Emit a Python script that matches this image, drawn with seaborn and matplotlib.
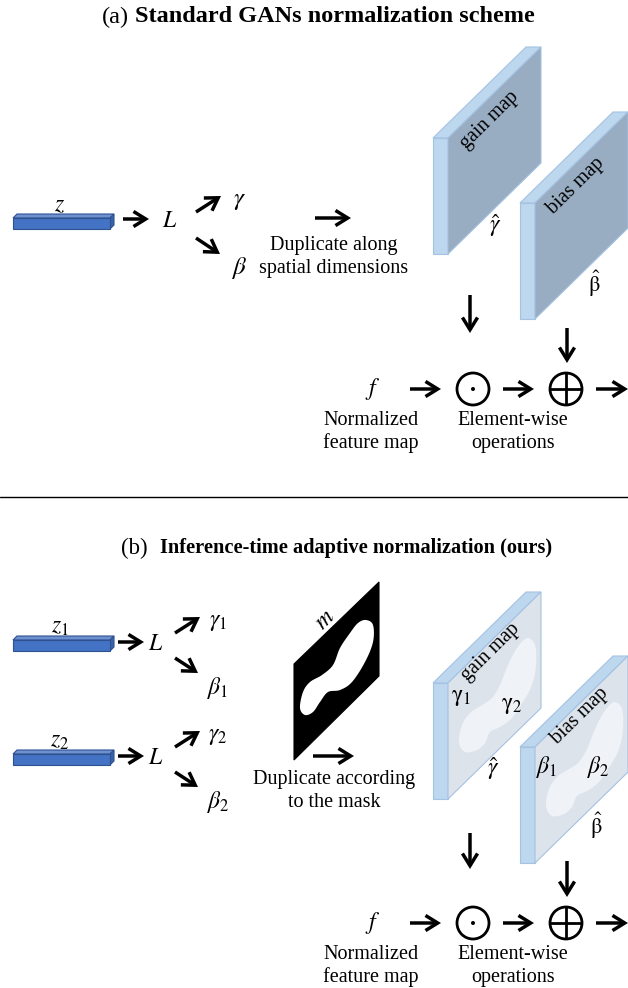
import numpy as np
import matplotlib
matplotlib.use("Agg")
import matplotlib.pyplot as plt
import seaborn as sns
from matplotlib.patches import Polygon, Circle, FancyArrowPatch

sns.set_theme(style="white")
plt.rcParams['font.family'] = ['Liberation Serif', 'DejaVu Serif']
plt.rcParams['mathtext.fontset'] = 'stix'
plt.rcParams['text.color'] = 'black'

# --- labels ---
panel_tags = ["(a)", "(b)"]
panel_titles = ["Standard GANs normalization scheme",
                "Inference-time adaptive normalization (ours)"]
latent_a = [r"$z$"]
latent_b = [r"$z_1$", r"$z_2$"]
params_a = [r"$\gamma$", r"$\beta$"]
params_b = [[r"$\gamma_1$", r"$\beta_1$"], [r"$\gamma_2$", r"$\beta_2$"]]
gain_parts = [r"$\mathrm{\gamma_1}$", r"$\mathrm{\gamma_2}$"]
dup_text = ["Duplicate along\nspatial dimensions", "Duplicate according\nto the mask"]
map_names = ["gain map", "bias map"]
map_hats = [r"$\hat{\gamma}$", r"$\hat{\mathrm{\beta}}$"]
feat_text = "Normalized\nfeature map"
op_text = "Element-wise\noperations"

# mask blob outline (rough trace)
mask_blob = [(366, 620), (373, 625), (373, 642), (365, 662), (352, 682), (340, 690),
             (328, 692), (320, 702), (313, 712), (305, 715), (300, 708), (303, 692),
             (310, 682), (322, 675), (333, 665), (340, 648), (350, 633), (358, 623)]
# lighter region on the gain map face (bias map uses the same one, shifted)
map_blob = [(527, 638), (535, 645), (536, 665), (532, 685), (523, 702), (512, 718),
            (500, 727), (490, 732), (485, 743), (477, 750), (465, 752), (459, 742),
            (462, 725), (470, 713), (482, 705), (492, 698), (500, 685), (508, 665),
            (517, 648)]

FS = 14.5
MS = 17
BLUE, BLUE_TOP, BLUE_SIDE, BLUE_EDGE = '#4472C4', '#6E8FD0', '#3A62AA', '#2F528F'
STRIP, STRIP_EDGE = '#BDD7EE', '#A4C2E2'


def smooth_closed(pts, n=10):
    P = np.array(pts, dtype=float)
    N = len(P)
    out = []
    for i in range(N):
        p0, p1, p2, p3 = P[i - 1], P[i], P[(i + 1) % N], P[(i + 2) % N]
        for t in np.linspace(0, 1, n, endpoint=False):
            out.append(0.5 * (2 * p1 + (-p0 + p2) * t + (2 * p0 - 5 * p1 + 4 * p2 - p3) * t ** 2
                              + (-p0 + 3 * p1 - 3 * p2 + p3) * t ** 3))
    return np.array(out)


def arrow(ax, x0, y0, x1, y1):
    ax.add_patch(FancyArrowPatch((x0, y0), (x1, y1), arrowstyle='->,head_length=5.5,head_width=3.4',
                                 mutation_scale=1.6, lw=2.5, color='black', shrinkA=0, shrinkB=0,
                                 capstyle='butt', joinstyle='miter'))


def bar(ax, x, y, label):
    # y = top of front face
    w, h, d = 97, 11, 4
    ax.add_patch(Polygon([(x, y), (x + d, y - d), (x + w + d, y - d), (x + w, y)],
                         closed=True, fc=BLUE_TOP, ec=BLUE_EDGE, lw=0.8))
    ax.add_patch(Polygon([(x + w, y), (x + w + d, y - d), (x + w + d, y - d + h), (x + w, y + h)],
                         closed=True, fc=BLUE_SIDE, ec=BLUE_EDGE, lw=0.8))
    ax.add_patch(Polygon([(x, y), (x + w, y), (x + w, y + h), (x, y + h)],
                         closed=True, fc=BLUE, ec=BLUE_EDGE, lw=0.8))
    ax.text(x + 47, y - 12, label, fontsize=MS, ha='center', va='center')


def slab(ax, x, y, face, blob=None):
    # x, y = top-left corner of front face
    w, h, s, t = 93, 116, 91, 15
    ax.add_patch(Polygon([(x - t, y), (x, y), (x + w, y - s), (x + w - t, y - s)],
                         closed=True, fc=STRIP, ec=STRIP_EDGE, lw=0.8))
    ax.add_patch(Polygon([(x - t, y), (x, y), (x, y + h), (x - t, y + h)],
                         closed=True, fc=STRIP, ec=STRIP_EDGE, lw=0.8))
    ax.add_patch(Polygon([(x, y), (x + w, y - s), (x + w, y - s + h), (x, y + h)],
                         closed=True, fc=face, ec=STRIP_EDGE, lw=0.8))
    if blob is not None:
        ax.add_patch(Polygon(blob, closed=True, fc='#EFF2F6', ec='none'))


def ops_row(ax, y):
    ax.text(373, y, r"$f$", fontsize=MS, ha='center', va='center')
    arrow(ax, 410, y, 441, y)
    ax.add_patch(Circle((473, y), 16, fc='none', ec='black', lw=2))
    ax.add_patch(Circle((473, y), 2, fc='black', ec='none'))
    arrow(ax, 503, y, 534, y)
    ax.add_patch(Circle((566, y), 16, fc='none', ec='black', lw=2))
    ax.plot([550, 582], [y, y], color='black', lw=2, solid_capstyle='butt')
    ax.plot([566, 566], [y - 16, y + 16], color='black', lw=2, solid_capstyle='butt')
    arrow(ax, 596, y, 628, y)
    ax.text(371, y + 43, feat_text, fontsize=FS, ha='center', va='center', linespacing=1.25)
    ax.text(513, y + 43, op_text, fontsize=FS, ha='center', va='center', linespacing=1.25)


fig = plt.figure(figsize=(6.28, 9.88), dpi=100)
ax = fig.add_axes([0, 0, 1, 1])
ax.set_xlim(0, 628)
ax.set_ylim(988, 0)
ax.axis('off')

# ---------------- panel (a) ----------------
ax.text(129, 17, panel_tags[0], fontsize=17.5, ha='right', va='center')
ax.text(135, 17, panel_titles[0], fontsize=17.5, ha='left', va='center', fontweight='bold')

bar(ax, 13, 218, latent_a[0])
arrow(ax, 123, 219, 149, 219)
ax.text(170, 221, r"$L$", fontsize=MS, ha='center', va='center')
arrow(ax, 196, 212, 221, 196)
arrow(ax, 196, 238, 220, 254)
ax.text(239, 201, params_a[0], fontsize=MS + 1, ha='center', va='center')
ax.text(239, 268, params_a[1], fontsize=MS + 1, ha='center', va='center')
arrow(ax, 315, 218, 351, 218)
ax.text(334, 257, dup_text[0], fontsize=FS, ha='center', va='center', linespacing=1.25)

slab(ax, 448, 138, '#98ADC2')
slab(ax, 535, 203, '#98ADC2')
ax.text(490, 120, map_names[0], fontsize=FS, rotation=44.7, rotation_mode='anchor',
        ha='center', va='center')
ax.text(576, 186, map_names[1], fontsize=FS, rotation=44.7, rotation_mode='anchor',
        ha='center', va='center')
ax.text(495, 226, map_hats[0], fontsize=MS, ha='center', va='center')
ax.text(594, 284, map_hats[1], fontsize=MS - 1, ha='center', va='center')
arrow(ax, 470, 295, 470, 333)
arrow(ax, 567, 328, 567, 363)
ops_row(ax, 389)

ax.plot([0, 628], [497, 497], color='black', lw=1)

# ---------------- panel (b) ----------------
ax.text(148, 548, panel_tags[1], fontsize=16.5, ha='right', va='center')
ax.text(160, 548, panel_titles[1], fontsize=14.7, ha='left', va='center', fontweight='bold')

for i, yb in enumerate([640, 754]):
    bar(ax, 13, yb, latent_b[i])
    yc = yb + 2
    arrow(ax, 118, yc, 144, yc)
    ax.text(156, yc + 2, r"$L$", fontsize=MS, ha='center', va='center')
    arrow(ax, 175, yc - 9, 200, yc - 25)
    arrow(ax, 175, yc + 16, 198, yc + 31)
    ax.text(218, yc - 20, params_b[i][0], fontsize=MS, ha='center', va='center')
    ax.text(218, yc + 46, params_b[i][1], fontsize=MS, ha='center', va='center')

# mask
ax.add_patch(Polygon([(294, 664), (379, 582), (379, 676), (294, 760)], closed=True,
                     fc='black', ec='black', lw=0.8))
ax.add_patch(Polygon(smooth_closed(mask_blob), closed=True, fc='white', ec='none'))
ax.text(325, 620, r"$m$", fontsize=MS, rotation=44.7, ha='center', va='center')
arrow(ax, 313, 756, 354, 756)
ax.text(334, 791, dup_text[1], fontsize=FS, ha='center', va='center', linespacing=1.25)

blob = smooth_closed(map_blob)
slab(ax, 448, 683, '#DCE3EB', blob)
slab(ax, 535, 747, '#DCE3EB', blob + np.array([87, 64]))
ax.text(491, 652, map_names[0], fontsize=FS, rotation=44.7, rotation_mode='anchor',
        ha='center', va='center')
ax.text(580, 716, map_names[1], fontsize=FS, rotation=44.7, rotation_mode='anchor',
        ha='center', va='center')
ax.text(461, 697, gain_parts[0], fontsize=MS, ha='center', va='center')
ax.text(512, 705, gain_parts[1], fontsize=MS, ha='center', va='center')
ax.text(547, 767, params_b[0][1], fontsize=MS, ha='center', va='center')
ax.text(598, 767, params_b[1][1], fontsize=MS, ha='center', va='center')
ax.text(493, 769, map_hats[0], fontsize=MS, ha='center', va='center')
ax.text(596, 826, map_hats[1], fontsize=MS - 1, ha='center', va='center')
arrow(ax, 470, 833, 470, 869)
arrow(ax, 567, 861, 567, 897)
ops_row(ax, 923)

fig.savefig('out.png', dpi=100, facecolor='white')
